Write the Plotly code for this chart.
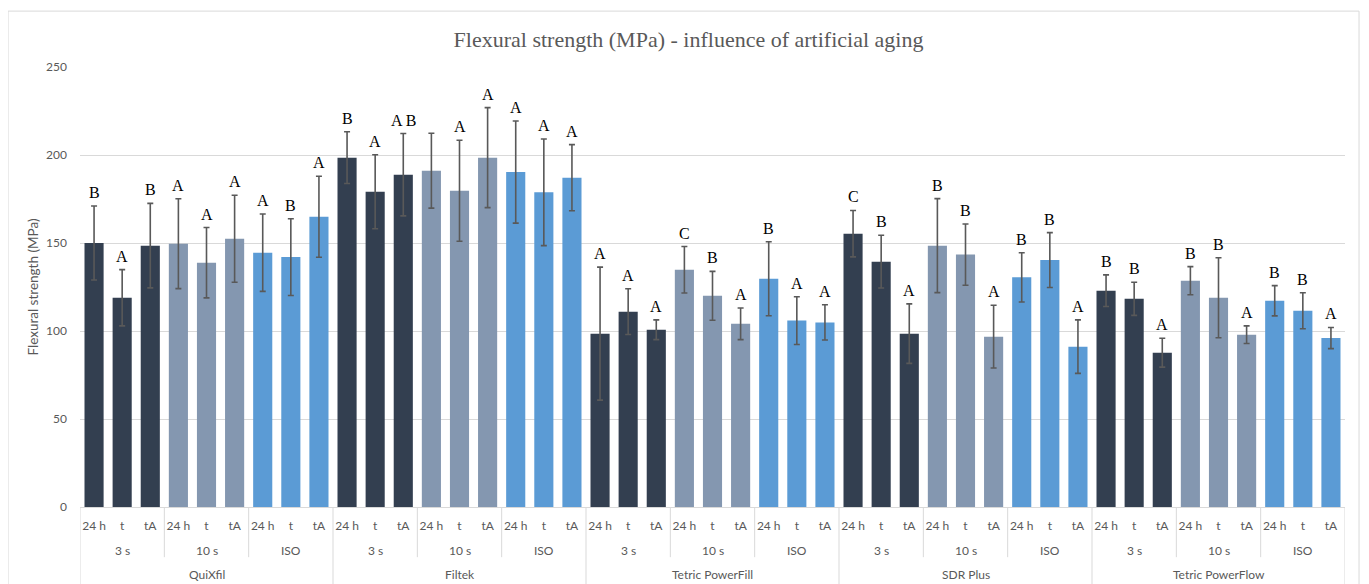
import plotly.graph_objects as go

materials = ["QuiXfil", "Filtek", "Tetric PowerFill", "SDR Plus", "Tetric PowerFlow"]
protocols = ["3 s", "10 s", "ISO"]
times = ["24 h", "t", "tA"]

quixfil_mean = [150.0, 118.9, 148.5, 149.6, 138.8, 152.4, 144.5, 142.0, 164.9]
filtek_mean = [198.5, 179.1, 188.8, 191.1, 179.7, 198.5, 190.3, 178.8, 187.1]
powerfill_mean = [98.5, 111.0, 100.7, 134.8, 120.0, 104.1, 129.7, 105.9, 104.9]
sdr_mean = [155.3, 139.4, 98.5, 148.5, 143.4, 96.8, 130.5, 140.3, 91.1]
powerflow_mean = [122.9, 118.3, 87.7, 128.6, 118.9, 97.9, 117.2, 111.5, 96.0]

quixfil_sd = [21.0, 16.0, 24.0, 25.5, 20.0, 24.7, 22.0, 21.8, 23.0]
filtek_sd = [14.7, 21.0, 23.4, 21.3, 28.7, 28.4, 29.0, 30.3, 18.8]
powerfill_sd = [37.8, 13.0, 5.6, 13.2, 13.9, 9.0, 21.0, 13.6, 10.0]
sdr_sd = [13.2, 15.0, 16.9, 26.7, 17.4, 17.8, 14.0, 15.6, 15.2]
powerflow_sd = [9.0, 9.4, 8.2, 8.0, 22.7, 5.0, 8.6, 10.2, 6.0]

quixfil_letters = ["B", "A", "B", "A", "A", "A", "A", "B", "A"]
filtek_letters = ["B", "A", "A B", "", "A", "A", "A", "A", "A"]
powerfill_letters = ["A", "A", "A", "C", "B", "A", "B", "A", "A"]
sdr_letters = ["C", "B", "A", "B", "B", "A", "B", "B", "A"]
powerflow_letters = ["B", "B", "A", "B", "B", "A", "B", "B", "A"]

protocol_colors = {"3 s": "#333F50", "10 s": "#8497B0", "ISO": "#5B9BD5"}

means = quixfil_mean + filtek_mean + powerfill_mean + sdr_mean + powerflow_mean
sds = quixfil_sd + filtek_sd + powerfill_sd + sdr_sd + powerflow_sd
letters = quixfil_letters + filtek_letters + powerfill_letters + sdr_letters + powerflow_letters

xs, colors, tick_text = [], [], []
i = 0
for m in materials:
    for p in protocols:
        for t in times:
            xs.append(i)
            colors.append(protocol_colors[p])
            tick_text.append(t)
            i += 1

fig = go.Figure()
fig.add_trace(go.Bar(
    x=xs, y=means,
    marker=dict(color=colors, line=dict(width=0)),
    error_y=dict(type="data", array=sds, visible=True, color="#595959",
                 thickness=1.6, width=3),
    width=0.68,
    hoverinfo="y",
))

annotations = []
for x, m, s, L in zip(xs, means, sds, letters):
    if L:
        annotations.append(dict(x=x, y=m + s, xref="x", yref="y", text=L,
                                showarrow=False, yanchor="bottom", yshift=3,
                                font=dict(family="Liberation Serif, Times New Roman, serif",
                                          size=16, color="#000000")))

shapes = []
axis_font = dict(family="Lato, Carlito, Calibri, sans-serif", size=12, color="#595959")
n_t = len(times)
for gi in range(len(materials) * len(protocols)):
    center = gi * n_t + (n_t - 1) / 2
    annotations.append(dict(x=center, y=-0.098, xref="x", yref="paper",
                            text=protocols[gi % len(protocols)], showarrow=False,
                            yanchor="middle", font=axis_font))
    if gi % len(protocols) != 0:
        xb = gi * n_t - 0.5
        shapes.append(dict(type="line", xref="x", yref="paper", x0=xb, x1=xb,
                           y0=0, y1=-0.114, line=dict(color="#D9D9D9", width=1)))
n_m = n_t * len(protocols)
for mi, m in enumerate(materials):
    center = mi * n_m + (n_m - 1) / 2
    annotations.append(dict(x=center, y=-0.153, xref="x", yref="paper",
                            text=m, showarrow=False, yanchor="middle", font=axis_font))
for mi in range(len(materials) + 1):
    xb = mi * n_m - 0.5
    shapes.append(dict(type="line", xref="x", yref="paper", x0=xb, x1=xb,
                       y0=0, y1=-0.2, line=dict(color="#D9D9D9", width=1)))
shapes.append(dict(type="rect", xref="paper", yref="paper",
                   x0=-0.0569, x1=1.0111, y0=-0.3, y1=1.127,
                   line=dict(color="#D9D9D9", width=1), fillcolor="rgba(0,0,0,0)",
                   layer="below"))

fig.update_layout(
    width=1361, height=576,
    margin=dict(l=72, r=24, t=59, b=77),
    paper_bgcolor="white", plot_bgcolor="white",
    showlegend=False,
    title=dict(text="Flexural strength (MPa) - influence of artificial aging",
               x=0.5, xanchor="center", y=0.945, yanchor="middle",
               font=dict(family="Liberation Serif, Palatino Linotype, serif",
                         size=22, color="#595959")),
    xaxis=dict(
        tickmode="array", tickvals=xs, ticktext=tick_text,
        range=[-0.5, len(xs) - 0.5],
        showgrid=False, zeroline=False,
        showline=True, linecolor="#D9D9D9", linewidth=1,
        ticks="", ticklabelstandoff=8,
        tickfont=axis_font, tickangle=0,
    ),
    yaxis=dict(
        range=[0, 250], dtick=50, tick0=0,
        showgrid=True, gridcolor="#D9D9D9", gridwidth=1,
        zeroline=False, showline=False,
        ticks="", ticklabelstandoff=12,
        tickfont=axis_font,
        title=dict(text="Flexural strength (MPa)",
                   font=dict(family="Lato, Carlito, Calibri, sans-serif", size=13.5,
                             color="#595959"),
                   standoff=4),
    ),
    annotations=annotations,
    shapes=shapes,
)

fig.write_html("out.html")
